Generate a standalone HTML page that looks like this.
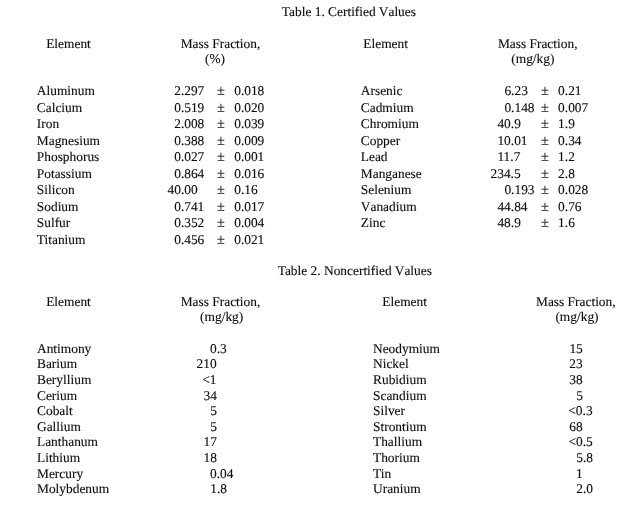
<!DOCTYPE html><html><head><meta charset="utf-8"><style>
html,body{margin:0;padding:0;background:#fff}
body{will-change:transform;width:635px;height:520px;position:relative;overflow:hidden;font-family:"Liberation Serif",serif;font-size:13.4px;color:#0d0d0d;-webkit-text-stroke:0.12px #0d0d0d}
span{position:absolute;white-space:pre;line-height:20px;font-variant-ligatures:none;text-rendering:geometricPrecision}
.pm{font-size:14.3px}
.tt{}
</style></head><body>
<span class="tt" style="left:281.8px;top:2px">Table 1. Certified V‌alues</span>
<span style="left:46.2px;top:34px">Element</span>
<span style="left:180.7px;top:34px">Mass Fraction,</span>
<span style="left:205.0px;top:49px">(%)</span>
<span style="left:363.3px;top:34px">Element</span>
<span style="left:497.9px;top:34px">Mass Fraction,</span>
<span style="left:511.3px;top:49px">(mg/kg)</span>
<span style="left:36.8px;top:81px">Aluminum</span>
<span style="left:174.2px;top:81px">2.297</span>
<span class="pm" style="left:216.9px;top:81px">±</span>
<span style="left:234.2px;top:81px">0.018</span>
<span style="left:36.8px;top:98px">Calcium</span>
<span style="left:174.2px;top:98px">0.519</span>
<span class="pm" style="left:216.9px;top:98px">±</span>
<span style="left:234.2px;top:98px">0.020</span>
<span style="left:36.8px;top:114px">Iron</span>
<span style="left:174.2px;top:114px">2.008</span>
<span class="pm" style="left:216.9px;top:114px">±</span>
<span style="left:234.2px;top:114px">0.039</span>
<span style="left:36.8px;top:131px">Magnesium</span>
<span style="left:174.2px;top:131px">0.388</span>
<span class="pm" style="left:216.9px;top:131px">±</span>
<span style="left:234.2px;top:131px">0.009</span>
<span style="left:36.8px;top:147px">Phosphorus</span>
<span style="left:174.2px;top:147px">0.027</span>
<span class="pm" style="left:216.9px;top:147px">±</span>
<span style="left:234.2px;top:147px">0.001</span>
<span style="left:36.8px;top:164px">Potassium</span>
<span style="left:174.2px;top:164px">0.864</span>
<span class="pm" style="left:216.9px;top:164px">±</span>
<span style="left:234.2px;top:164px">0.016</span>
<span style="left:36.8px;top:180px">Silicon</span>
<span style="left:167.5px;top:180px">40.00</span>
<span class="pm" style="left:216.9px;top:180px">±</span>
<span style="left:234.2px;top:180px">0.16</span>
<span style="left:36.8px;top:197px">Sodium</span>
<span style="left:174.2px;top:197px">0.741</span>
<span class="pm" style="left:216.9px;top:197px">±</span>
<span style="left:234.2px;top:197px">0.017</span>
<span style="left:36.8px;top:213px">Sulfur</span>
<span style="left:174.2px;top:213px">0.352</span>
<span class="pm" style="left:216.9px;top:213px">±</span>
<span style="left:234.2px;top:213px">0.004</span>
<span style="left:36.8px;top:230px">Titanium</span>
<span style="left:174.2px;top:230px">0.456</span>
<span class="pm" style="left:216.9px;top:230px">±</span>
<span style="left:234.2px;top:230px">0.021</span>
<span style="left:360.8px;top:81px">Arsenic</span>
<span style="left:504.4px;top:81px">6.23</span>
<span class="pm" style="left:540.9px;top:81px">±</span>
<span style="left:558.1px;top:81px">0.21</span>
<span style="left:360.8px;top:98px">Cadmium</span>
<span style="left:504.4px;top:98px">0.148</span>
<span class="pm" style="left:540.9px;top:98px">±</span>
<span style="left:558.1px;top:98px">0.007</span>
<span style="left:360.8px;top:114px">Chromium</span>
<span style="left:497.4px;top:114px">40.9</span>
<span class="pm" style="left:540.9px;top:114px">±</span>
<span style="left:558.1px;top:114px">1.9</span>
<span style="left:360.8px;top:131px">Copper</span>
<span style="left:497.4px;top:131px">10.01</span>
<span class="pm" style="left:540.9px;top:131px">±</span>
<span style="left:558.1px;top:131px">0.34</span>
<span style="left:360.8px;top:147px">Lead</span>
<span style="left:497.4px;top:147px">11.7</span>
<span class="pm" style="left:540.9px;top:147px">±</span>
<span style="left:558.1px;top:147px">1.2</span>
<span style="left:360.8px;top:164px">Manganese</span>
<span style="left:490.5px;top:164px">234.5</span>
<span class="pm" style="left:540.9px;top:164px">±</span>
<span style="left:558.1px;top:164px">2.8</span>
<span style="left:360.8px;top:180px">Selenium</span>
<span style="left:504.4px;top:180px">0.193</span>
<span class="pm" style="left:540.9px;top:180px">±</span>
<span style="left:558.1px;top:180px">0.028</span>
<span style="left:360.8px;top:197px">V‌anadium</span>
<span style="left:497.4px;top:197px">44.84</span>
<span class="pm" style="left:540.9px;top:197px">±</span>
<span style="left:558.1px;top:197px">0.76</span>
<span style="left:360.8px;top:213px">Zinc</span>
<span style="left:497.4px;top:213px">48.9</span>
<span class="pm" style="left:540.9px;top:213px">±</span>
<span style="left:558.1px;top:213px">1.6</span>
<span class="tt" style="left:277.7px;top:261px">Table 2. Noncertified V‌alues</span>
<span style="left:46.2px;top:292px">Element</span>
<span style="left:180.7px;top:292px">Mass Fraction,</span>
<span style="left:200.1px;top:307px">(mg/kg)</span>
<span style="left:382.3px;top:292px">Element</span>
<span style="left:536.0px;top:292px">Mass Fraction,</span>
<span style="left:555.4px;top:307px">(mg/kg)</span>
<span style="left:37.0px;top:339px">Antimony</span>
<span style="left:210.0px;top:339px">0.3</span>
<span style="left:37.0px;top:354px">Barium</span>
<span style="left:196.5px;top:354px">210</span>
<span style="left:37.0px;top:370px">Beryllium</span>
<span style="left:202.2px;top:370px">&lt;1</span>
<span style="left:37.0px;top:386px">Cerium</span>
<span style="left:203.5px;top:386px">34</span>
<span style="left:37.0px;top:401px">Cobalt</span>
<span style="left:210.2px;top:401px">5</span>
<span style="left:37.0px;top:417px">Gallium</span>
<span style="left:210.2px;top:417px">5</span>
<span style="left:37.0px;top:432px">Lanthanum</span>
<span style="left:203.6px;top:432px">17</span>
<span style="left:37.0px;top:448px">Lithium</span>
<span style="left:203.6px;top:448px">18</span>
<span style="left:37.0px;top:464px">Mercury</span>
<span style="left:210.0px;top:464px">0.04</span>
<span style="left:37.0px;top:479px">Molybdenum</span>
<span style="left:210.2px;top:479px">1.8</span>
<span style="left:373.0px;top:339px">Neodymium</span>
<span style="left:569.4px;top:339px">15</span>
<span style="left:373.0px;top:354px">Nickel</span>
<span style="left:569.3px;top:354px">23</span>
<span style="left:373.0px;top:370px">Rubidium</span>
<span style="left:569.3px;top:370px">38</span>
<span style="left:373.0px;top:386px">Scandium</span>
<span style="left:576.2px;top:386px">5</span>
<span style="left:373.0px;top:401px">Silver</span>
<span style="left:568.3px;top:401px">&lt;0.3</span>
<span style="left:373.0px;top:417px">Strontium</span>
<span style="left:569.3px;top:417px">68</span>
<span style="left:373.0px;top:432px">Thallium</span>
<span style="left:568.4px;top:432px">&lt;0.5</span>
<span style="left:373.0px;top:448px">Thorium</span>
<span style="left:576.2px;top:448px">5.8</span>
<span style="left:373.0px;top:464px">Tin</span>
<span style="left:576.1px;top:464px">1</span>
<span style="left:373.0px;top:479px">Uranium</span>
<span style="left:576.3px;top:479px">2.0</span>
</body></html>
